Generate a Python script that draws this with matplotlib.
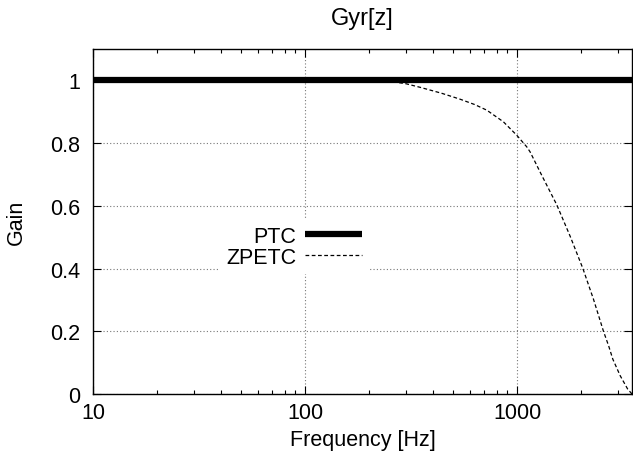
import numpy as np
import matplotlib.pyplot as plt
from matplotlib.ticker import LogLocator, FixedLocator, NullFormatter

# values
freq_ptc = [10, 3480]
gain_ptc = [1.0, 1.0]

freq_zpetc = [10, 100, 200, 252, 300, 348, 440, 538, 630, 719, 861, 996, 1110,
              1151, 1300, 1538, 1778, 2042, 2291, 2553, 2702, 2826, 3063, 3318, 3480]
gain_zpetc = [1.0, 1.0, 1.0, 0.997, 0.989, 0.978, 0.959, 0.94, 0.923, 0.905, 0.868,
              0.825, 0.788, 0.772, 0.70, 0.603, 0.503, 0.40, 0.302, 0.20, 0.153,
              0.111, 0.058, 0.016, 0.0]

plt.rcParams['font.family'] = ['Liberation Sans', 'DejaVu Sans']
plt.rcParams['font.size'] = 15.5

fig = plt.figure(figsize=(6.33, 4.64), dpi=100)
ax = fig.add_axes([93/633, 1-395/464, (632-93)/633, (395-50)/464])

ax.plot(freq_ptc, gain_ptc, color='black', lw=4.5, solid_capstyle='butt', label='PTC')
ax.plot(freq_zpetc, gain_zpetc, color='black', lw=0.9, ls=(0, (3, 2)), label='ZPETC')

ax.set_xscale('log')
ax.set_xlim(10, 3480)
ax.set_ylim(0, 1.1)
ax.xaxis.set_major_locator(FixedLocator([10, 100, 1000]))
ax.xaxis.set_minor_locator(LogLocator(base=10, subs=np.arange(2, 10)))
ax.xaxis.set_minor_formatter(NullFormatter())
ax.set_xticks([10, 100, 1000])
ax.set_xticklabels(['10', '100', '1000'])
ax.set_yticks([0, 0.2, 0.4, 0.6, 0.8, 1])
ax.set_yticklabels(['0', '0.2', '0.4', '0.6', '0.8', '1'])

ax.tick_params(which='both', direction='in', top=True, right=True, width=0.8)
ax.tick_params(axis='y', pad=9)
ax.tick_params(axis='x', pad=6)
ax.tick_params(which='major', length=6)
ax.tick_params(which='minor', length=3)
ax.grid(True, which='major', color='#777777', ls=(0, (1, 2)), lw=0.8)
for s in ax.spines.values():
    s.set_linewidth(1.0)

ax.set_title('Gyr[z]', pad=18, fontsize=17)
ax.set_xlabel('Frequency [Hz]', labelpad=4)
ax.set_ylabel('Gain', labelpad=17)

leg = ax.legend(loc='center', bbox_to_anchor=(294/633, 1-248/464), bbox_transform=fig.transFigure,
                markerfirst=False, frameon=True, framealpha=1, edgecolor='white',
                handlelength=2.66, handletextpad=0.4, borderpad=0.3, labelspacing=0.0,
                fancybox=False, fontsize=15.5)
for t in leg.get_texts():
    t.set_ha('right')
leg.get_frame().set_linewidth(0)

fig.savefig('out.png', dpi=100)
